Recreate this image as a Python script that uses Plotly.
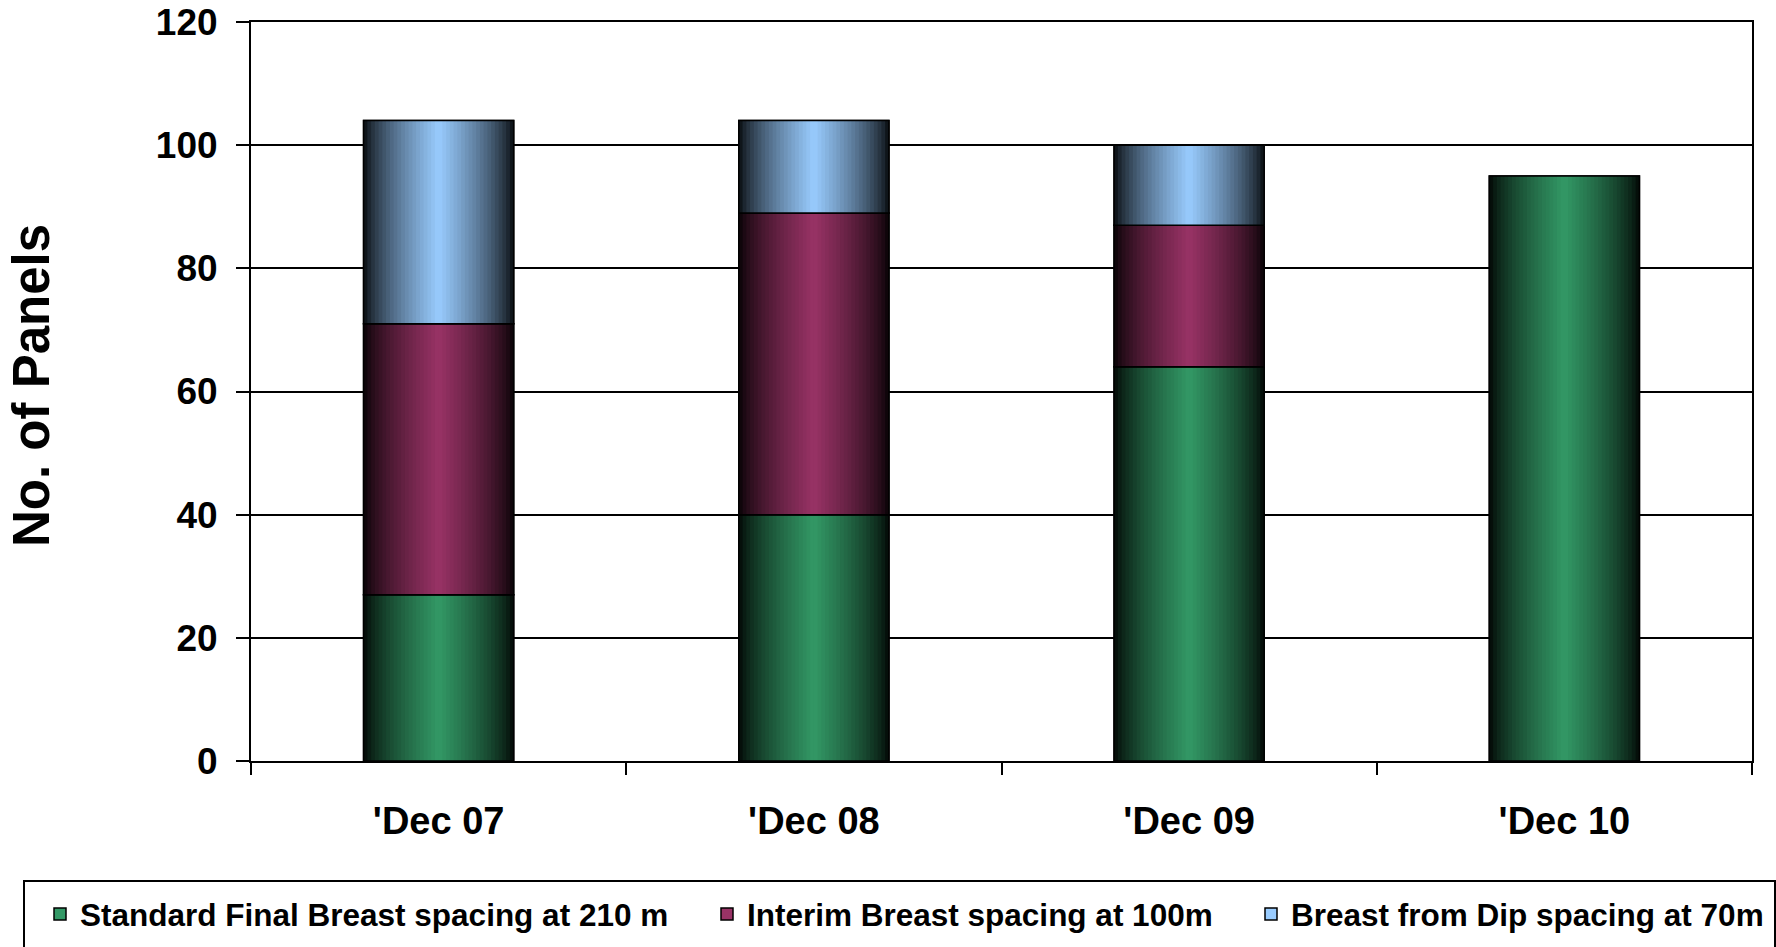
import plotly.graph_objects as go

# ---- data -------------------------------------------------------------
categories = ["'Dec 07", "'Dec 08", "'Dec 09", "'Dec 10"]
standard_210m = [27, 40, 64, 95]
interim_100m = [44, 49, 23, 0]
dip_70m = [33, 15, 13, 0]

series_values = [standard_210m, interim_100m, dip_70m]
series_names = [
    "Standard Final Breast spacing at 210 m",
    "Interim Breast spacing at 100m",
    "Breast from Dip spacing at 70m",
]
series_colors = ["#339966", "#993366", "#99CCFF"]
y_ticks = [0, 20, 40, 60, 80, 100, 120]

# ---- styling ----------------------------------------------------------
FONT = "Liberation Sans, Arial, sans-serif"
BAR_WIDTH = 0.4
N_STRIPS = 40
W, H = 1776, 947
M_L, M_R, M_T, M_B = 251, 24, 22, 186


def hex_to_rgb(h):
    h = h.lstrip("#")
    return tuple(int(h[i:i + 2], 16) for i in (0, 2, 4))


def shade(color, t):
    """Colour at relative position t across a bar: dark edges, full colour in the middle."""
    r, g, b = hex_to_rgb(color)
    f = max(0.0, 1.0 - abs(2.0 * t - 1.0)) ** 0.7
    f = 0.03 + 0.97 * f
    return f"rgb({int(r * f)},{int(g * f)},{int(b * f)})"


fig = go.Figure()

bases = [0] * len(categories)
legend_ids = ["legend", "legend2", "legend3"]
for k, (vals, name, color) in enumerate(zip(series_values, series_names, series_colors)):
    y = [v if v else None for v in vals]
    base = list(bases)

    # solid segment carrying the legend entry
    fig.add_trace(go.Bar(
        x=categories, y=y, base=base, width=BAR_WIDTH, name=name,
        marker=dict(color=color, line=dict(color="black", width=1.5)),
        legend=legend_ids[k], hovertemplate="%{x}: %{y}<extra>" + name + "</extra>",
    ))

    # horizontal shading: narrow strips, each running to the right edge of the bar
    step = BAR_WIDTH / N_STRIPS
    for i in range(N_STRIPS):
        fig.add_trace(go.Bar(
            x=categories, y=y, base=base,
            offset=-BAR_WIDTH / 2 + i * step, width=BAR_WIDTH - i * step,
            marker=dict(color=shade(color, (i + 0.5) / N_STRIPS), line=dict(width=0)),
            showlegend=False, hoverinfo="skip",
        ))

    # black outline on top of the shading
    fig.add_trace(go.Bar(
        x=categories, y=y, base=base, width=BAR_WIDTH,
        marker=dict(color="rgba(0,0,0,0)", line=dict(color="black", width=1.5)),
        showlegend=False, hoverinfo="skip",
    ))

    bases = [b + v for b, v in zip(bases, vals)]

# ---- layout -----------------------------------------------------------
plot_w = W - M_L - M_R
plot_h = H - M_T - M_B


def px_x(p):
    return (p - M_L) / plot_w


def px_y(p):
    return (H - M_B - p) / plot_h


legend_font = dict(family=FONT, size=31.5, color="black", weight="bold")
legend_common = dict(
    xref="container", yref="container", yanchor="middle", xanchor="left",
    bgcolor="rgba(0,0,0,0)", borderwidth=0, font=legend_font,
    orientation="h", itemclick=False, itemdoubleclick=False,
)
legend_y = 1 - 914 / H

fig.update_layout(
    width=W, height=H,
    margin=dict(l=M_L, r=M_R, t=M_T, b=M_B, autoexpand=False),
    paper_bgcolor="white", plot_bgcolor="white",
    barmode="overlay",
    font=dict(family=FONT, color="black"),
    legend=dict(x=40 / W, y=legend_y, **legend_common),
    legend2=dict(x=707 / W, y=legend_y, **legend_common),
    legend3=dict(x=1251 / W, y=legend_y, **legend_common),
    xaxis=dict(
        type="category", categoryorder="array", categoryarray=categories,
        range=[-0.5, len(categories) - 0.5],
        showline=True, linecolor="black", linewidth=2, mirror=True,
        ticks="outside", tickson="boundaries", ticklen=12, tickwidth=1.5, tickcolor="black",
        tickfont=dict(family=FONT, size=38, color="black", weight="bold"),
        ticklabelstandoff=25, showgrid=False, automargin=False,
    ),
    yaxis=dict(
        range=[0, 120], tickvals=y_ticks, ticktext=[str(v) for v in y_ticks],
        showline=True, linecolor="black", linewidth=2, mirror=True,
        showgrid=True, gridcolor="black", gridwidth=1.7,
        ticks="outside", ticklen=13, tickwidth=1.7, tickcolor="black",
        tickfont=dict(family=FONT, size=37, color="black", weight="bold"),
        ticklabelstandoff=11, zeroline=False, automargin=False,
    ),
    annotations=[dict(
        text="No. of Panels", textangle=-90,
        xref="paper", yref="paper", x=px_x(32), y=px_y(386),
        xanchor="center", yanchor="middle", showarrow=False,
        font=dict(family=FONT, size=51, color="black", weight="bold"),
    )],
    shapes=[dict(
        type="rect", xref="paper", yref="paper",
        x0=px_x(24), x1=px_x(1775), y0=px_y(960), y1=px_y(881),
        line=dict(color="black", width=2), fillcolor="rgba(0,0,0,0)", layer="above",
    )],
)

fig.write_html("out.html")
